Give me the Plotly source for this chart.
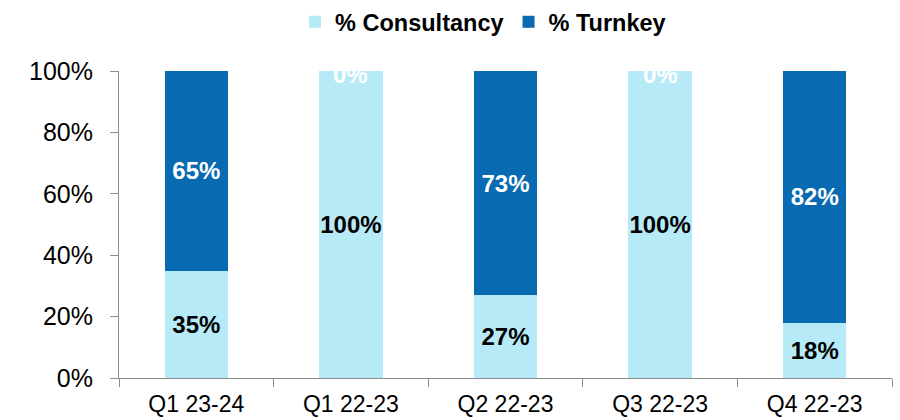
import plotly.graph_objects as go

categories = ["Q1 23-24", "Q1 22-23", "Q2 22-23", "Q3 22-23", "Q4 22-23"]
consultancy = [35, 100, 27, 100, 18]
turnkey = [65, 0, 73, 0, 82]
y_ticks = [0, 20, 40, 60, 80, 100]

c_light = "#B7EAF7"
c_dark = "#086AB0"
font_family = "Liberation Sans, Arial, sans-serif"

fig = go.Figure()
fig.add_trace(go.Bar(
    name="% Consultancy", x=categories, y=consultancy, marker_color=c_light,
    marker_line_width=0,
    text=[f"{v}%" if v > 0 else "" for v in consultancy], textposition="inside",
    insidetextanchor="middle", constraintext="none", textangle=0,
    textfont=dict(family=font_family, size=24, color="black", weight="bold"),
))
fig.add_trace(go.Bar(
    name="% Turnkey", x=categories, y=turnkey, marker_color=c_dark,
    marker_line_width=0,
    text=[f"{v}%" if v > 0 else "" for v in turnkey], textposition="inside",
    insidetextanchor="middle", constraintext="none", textangle=0,
    textfont=dict(family=font_family, size=24, color="white", weight="bold"),
))

# zero-valued labels sit at the top of the stack (white, mostly hidden)
for cat, c, t in zip(categories, consultancy, turnkey):
    if t == 0:
        fig.add_annotation(x=cat, y=c + t, xref="x", yref="y", text=f"{t}%",
                           showarrow=False, yshift=-3,
                           font=dict(family=font_family, size=24, color="white", weight="bold"))

fig.update_layout(
    barmode="stack", bargap=0.59,
    width=900, height=420,
    margin=dict(l=119, r=8, t=71, b=42),
    plot_bgcolor="white", paper_bgcolor="white",
    font=dict(family=font_family, color="black"),
    legend=dict(orientation="h", x=0.471, xanchor="center", y=1.0, yanchor="top",
                yref="container", font=dict(size=23.5, weight="bold"),
                traceorder="normal", itemwidth=30, tracegroupgap=0),
    showlegend=True,
)
fig.update_xaxes(showline=True, linecolor="#8C8C8C", linewidth=1,
                 ticks="outside", ticklen=8, tickcolor="#8C8C8C", tickson="boundaries",
                 tickfont=dict(size=23, family=font_family), showgrid=False,
                 ticklabelstandoff=5, automargin=False)
fig.update_yaxes(range=[0, 100], tickvals=y_ticks, ticktext=[f"{v}%" for v in y_ticks],
                 showline=True, linecolor="#8C8C8C", linewidth=1,
                 ticks="outside", ticklen=8, tickcolor="#8C8C8C",
                 tickfont=dict(size=25, family=font_family), showgrid=False,
                 zeroline=False, ticklabelstandoff=12, automargin=False)

fig.write_html("out.html")
